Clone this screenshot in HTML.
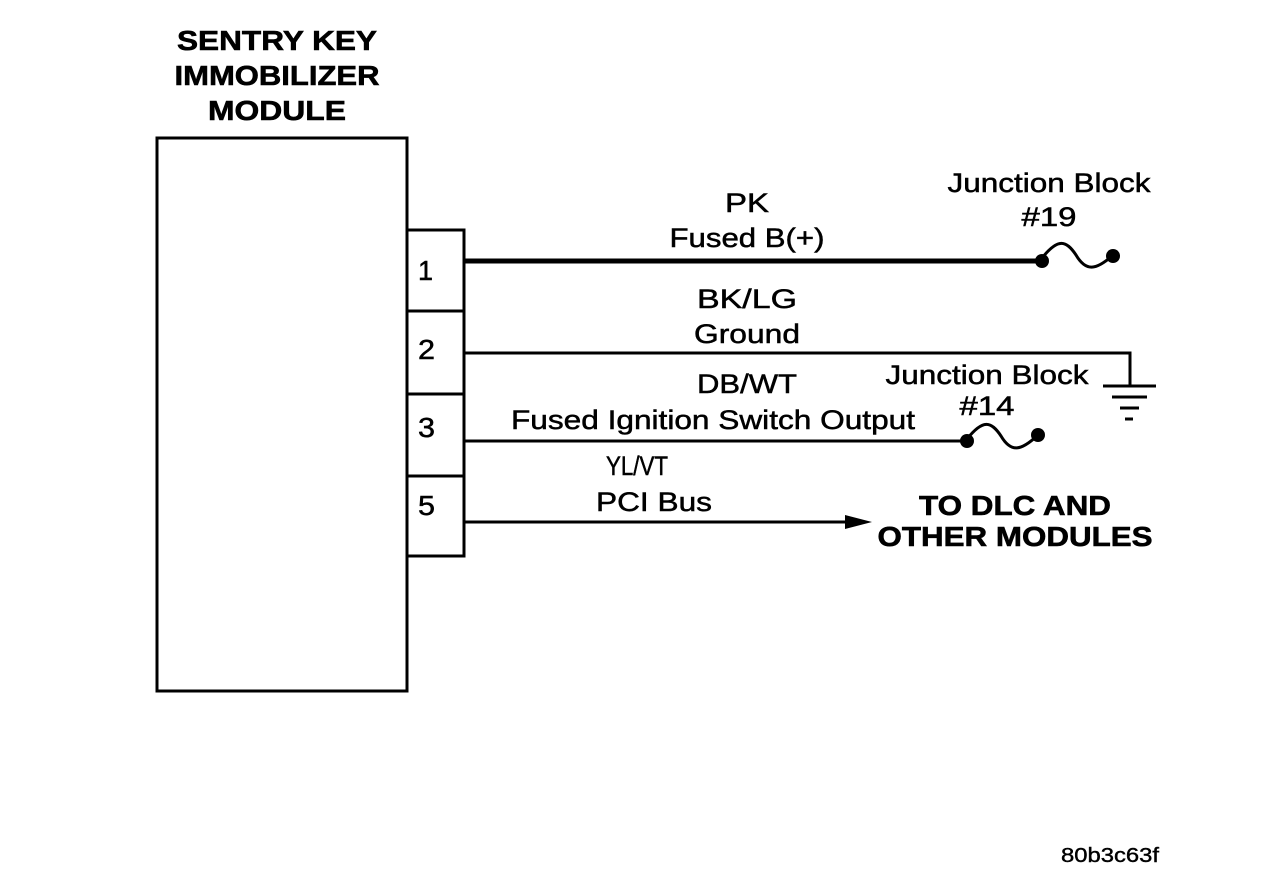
<!DOCTYPE html>
<html><head><meta charset="utf-8"><style>html,body{margin:0;padding:0;background:#fff}svg{display:block}</style></head><body>
<svg width="1280" height="876" viewBox="0 0 1280 876" xmlns="http://www.w3.org/2000/svg" font-family="Liberation Sans, sans-serif" fill="#000">
<g font-weight="bold" font-size="28" text-anchor="middle" stroke="#000" stroke-width="0.6">
<text x="277" y="50" textLength="200" lengthAdjust="spacingAndGlyphs">SENTRY KEY</text>
<text x="277" y="85" textLength="205" lengthAdjust="spacingAndGlyphs">IMMOBILIZER</text>
<text x="277" y="120" textLength="138" lengthAdjust="spacingAndGlyphs">MODULE</text>
<text x="1015" y="515" textLength="192" lengthAdjust="spacingAndGlyphs">TO DLC AND</text>
<text x="1015" y="546" textLength="275" lengthAdjust="spacingAndGlyphs">OTHER MODULES</text>
</g>
<g fill="none" stroke="#000" stroke-width="3">
<rect x="157" y="138" width="250" height="553"/>
<rect x="407" y="230" width="57" height="326"/>
<line x1="407" y1="311" x2="464" y2="311"/>
<line x1="407" y1="394" x2="464" y2="394"/>
<line x1="407" y1="476" x2="464" y2="476"/>
<line x1="464" y1="261" x2="1042" y2="261" stroke-width="5"/>
<polyline points="464,353 1130,353 1130,386"/>
<line x1="464" y1="441" x2="967" y2="441"/>
<line x1="464" y1="522" x2="850" y2="522"/>
<line x1="1103" y1="386" x2="1156" y2="386"/>
<line x1="1112" y1="397" x2="1147" y2="397"/>
<line x1="1120" y1="408" x2="1139" y2="408"/>
<line x1="1125" y1="419" x2="1133" y2="419"/>
<path d="M1042,258 C1058,238 1066,240 1076,255 C1086,272 1096,270 1112,256"/>
<path d="M967,439 C983,419 991,421 1001,436 C1011,453 1021,451 1038,435"/>
</g>
<polygon points="845,515 872,522 845,529"/>
<circle cx="1042" cy="261" r="7"/><circle cx="1113" cy="256" r="7"/>
<circle cx="967" cy="441" r="7"/><circle cx="1038" cy="435" r="7"/>
<g font-size="28" stroke="#000" stroke-width="0.5">
<text x="418" y="280" textLength="15" lengthAdjust="spacingAndGlyphs">1</text><text x="418" y="359" textLength="17" lengthAdjust="spacingAndGlyphs">2</text><text x="418" y="437" textLength="17" lengthAdjust="spacingAndGlyphs">3</text><text x="418" y="515" textLength="17" lengthAdjust="spacingAndGlyphs">5</text>
</g>
<g font-size="27" text-anchor="middle" stroke="#000" stroke-width="0.5">
<text x="747" y="212" textLength="44" lengthAdjust="spacingAndGlyphs">PK</text>
<text x="747" y="247" textLength="155" lengthAdjust="spacingAndGlyphs">Fused B(+)</text>
<text x="747" y="308" textLength="100" lengthAdjust="spacingAndGlyphs">BK/LG</text>
<text x="747" y="343" textLength="106" lengthAdjust="spacingAndGlyphs">Ground</text>
<text x="747" y="393" textLength="100" lengthAdjust="spacingAndGlyphs">DB/WT</text>
<text x="713" y="429" textLength="404" lengthAdjust="spacingAndGlyphs">Fused Ignition Switch Output</text>
<text x="637" y="475" textLength="62" lengthAdjust="spacingAndGlyphs">YL/VT</text>
<text x="654" y="511" textLength="116" lengthAdjust="spacingAndGlyphs">PCI Bus</text>
<text x="1049" y="192" textLength="203" lengthAdjust="spacingAndGlyphs">Junction Block</text>
<text x="1049" y="226" textLength="55" lengthAdjust="spacingAndGlyphs">#19</text>
<text x="987" y="384" textLength="203" lengthAdjust="spacingAndGlyphs">Junction Block</text>
<text x="987" y="415" textLength="55" lengthAdjust="spacingAndGlyphs">#14</text>
</g>
<text x="1110" y="862" font-size="20" text-anchor="middle" stroke="#000" stroke-width="0.4" textLength="98" lengthAdjust="spacingAndGlyphs">80b3c63f</text>
</svg>
</body></html>
